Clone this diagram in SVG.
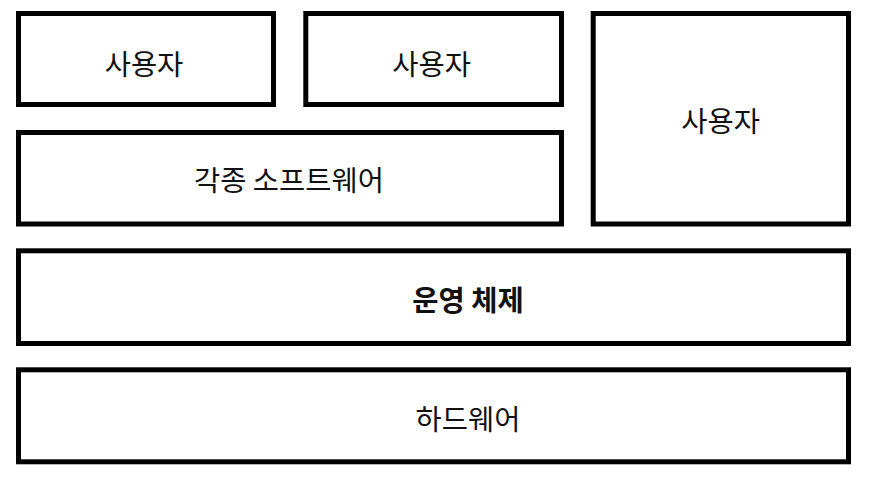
<svg xmlns="http://www.w3.org/2000/svg" width="873" height="479" viewBox="0 0 873 479">
<style>
.box{fill:#fff;stroke:#000;stroke-width:5}
.t{font-family:"Noto Sans CJK KR","Noto Sans",sans-serif;font-size:28.5px;fill:#111;text-anchor:middle;dominant-baseline:central}
.b{font-weight:bold}
</style>
<rect width="873" height="479" fill="#fff"/>
<g id="user1"><rect class="box" x="18.5" y="13.5" width="255" height="91"/><text class="t" x="144" y="62">사용자</text></g>
<g id="user2"><rect class="box" x="305.8" y="13.5" width="255.7" height="91"/><text class="t" x="431.7" y="62">사용자</text></g>
<g id="user3"><rect class="box" x="593.2" y="13.5" width="255.3" height="210.5"/><text class="t" x="720.7" y="119.3">사용자</text></g>
<g id="software"><rect class="box" x="18.5" y="132.5" width="543" height="91.5"/><text class="t" x="289" y="178">각종 소프트웨어</text></g>
<g id="os"><rect class="box" x="18.5" y="250.8" width="830" height="92.7"/><text class="t b" x="468" y="298">운영 체제</text></g>
<g id="hardware"><rect class="box" x="18.5" y="369.8" width="830" height="92"/><text class="t" x="468" y="417">하드웨어</text></g>
<g id="connectors"></g>
</svg>
